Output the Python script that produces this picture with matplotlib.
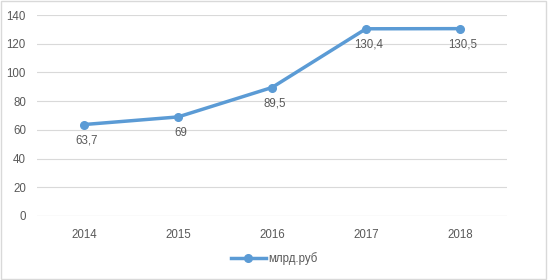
import matplotlib
matplotlib.use("Agg")
import matplotlib.pyplot as plt
from matplotlib.patches import Rectangle

years = ["2014", "2015", "2016", "2017", "2018"]
values = [63.7, 69, 89.5, 130.4, 130.5]
labels = ["63,7", "69", "89,5", "130,4", "130,5"]
yticks = [0, 20, 40, 60, 80, 100, 120, 140]
series_name = "млрд.руб"

plt.rcParams['font.family'] = ['Liberation Sans', 'DejaVu Sans']
fig = plt.figure(figsize=(5.48, 2.8), dpi=100)
ax = fig.add_axes([37/548, 1-216/280, 470/548, 201/280])

x = list(range(len(years)))
ax.plot(x, values, color="#5B9BD5", lw=2.5, marker="o", ms=5.5, label=series_name, zorder=3)
for xi, v, t in zip(x, values, labels):
    ax.annotate(t, (xi, v), xytext=(2, -7), textcoords="offset points",
                ha="center", va="top", fontsize=8.3, color="#595959")

ax.set_xlim(-0.5, len(years)-0.5)
ax.set_ylim(0, 140)
ax.set_yticks(yticks)
ax.set_xticks(x)
ax.set_xticklabels(years)
ax.tick_params(axis="both", length=0, labelsize=8.3, labelcolor="#595959")
ax.tick_params(axis="x", pad=9)
ax.tick_params(axis="y", pad=8)
ax.grid(axis="y", color="#D9D9D9", lw=0.8)
ax.set_axisbelow(True)
for s in ax.spines.values():
    s.set_visible(False)
ax.axhline(0, color="#D9D9D9", lw=0.8)

leg = fig.legend(loc="center", bbox_to_anchor=(0.5, 1-259/280), frameon=False,
                 fontsize=8.3, handlelength=3, handletextpad=0.2)
for t in leg.get_texts():
    t.set_color("#595959")

fig.patches.append(Rectangle((0.002, 0.004), 0.995, 0.992, transform=fig.transFigure,
                             fill=False, edgecolor="#D9D9D9", lw=1))
fig.savefig("out.png", dpi=100)
